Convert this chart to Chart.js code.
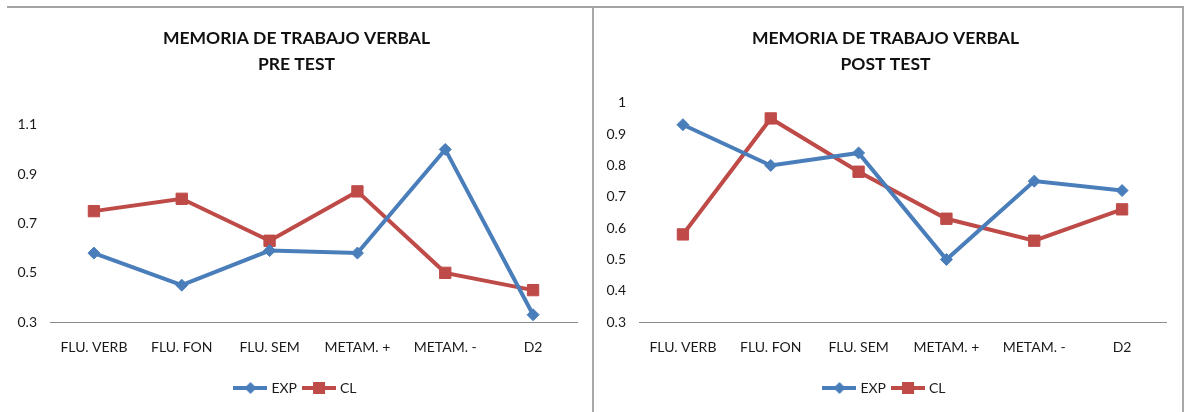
<!DOCTYPE html>
<html>
<head>
<meta charset="utf-8">
<script src="https://cdn.jsdelivr.net/npm/chart.js@4.4.1/dist/chart.umd.min.js"></script>
<style>
  html, body { margin: 0; padding: 0; background: #ffffff; }
  #page { position: relative; width: 1185px; height: 412px; overflow: hidden; background: #ffffff; }
  .panel { position: absolute; top: 6px; height: 406px; border-top: 2px solid #a3a3a3; box-sizing: border-box; }
  #panelPre { left: 7px; width: 587px; border-right: 2px solid #a8a8a8; }
  #panelPost { left: 594px; width: 590px; border-right: 2px solid #a8a8a8; }
  canvas { position: absolute; top: 0; }
  #chartPre { left: 0; }
  #chartPost { left: 594px; }
</style>
</head>
<body>
<div id="page">
  <div class="panel" id="panelPre"></div>
  <div class="panel" id="panelPost"></div>
  <canvas id="chartPre" width="592" height="412"></canvas>
  <canvas id="chartPost" width="588" height="412"></canvas>
</div>
<script>
// Test categories shared by both charts
const categories = ['FLU. VERB', 'FLU. FON', 'FLU. SEM', 'METAM. +', 'METAM. -', 'D2'];

// Pre test scores
const preExp = [0.58, 0.45, 0.59, 0.58, 1.00, 0.33];
const preCl  = [0.75, 0.80, 0.63, 0.83, 0.50, 0.43];
const preTicks = ['0.3', '0.5', '0.7', '0.9', '1.1'];

// Post test scores
const postExp = [0.93, 0.80, 0.84, 0.50, 0.75, 0.72];
const postCl  = [0.58, 0.95, 0.78, 0.63, 0.56, 0.66];
const postTicks = ['0.3', '0.4', '0.5', '0.6', '0.7', '0.8', '0.9', '1'];

const BLUE = '#4a7ebb';
const RED = '#be4b48';
const FONT = 'Lato, "Open Sans", sans-serif';

// Legend swatch: a short line segment with the series marker in the middle
function legendSwatch(color, shape) {
  const c = document.createElement('canvas');
  c.width = 34; c.height = 16;
  const g = c.getContext('2d');
  g.strokeStyle = color; g.lineWidth = 4;
  g.beginPath(); g.moveTo(0, 8); g.lineTo(34, 8); g.stroke();
  g.fillStyle = color;
  if (shape === 'diamond') {
    g.beginPath(); g.moveTo(17, 2); g.lineTo(23, 8); g.lineTo(17, 14); g.lineTo(11, 8); g.closePath(); g.fill();
  } else {
    g.fillRect(11, 2, 12, 12);
  }
  return c;
}

function buildChart(id, subtitle, expVals, clVals, yMin, yMax, yStep, tickLabels, pad, axisWidth, titleGap) {
  return new Chart(document.getElementById(id), {
    type: 'line',
    data: {
      labels: categories,
      datasets: [
        {
          label: 'EXP', data: expVals,
          borderColor: BLUE, backgroundColor: BLUE, borderWidth: 4,
          pointStyle: 'rectRot', pointRadius: 6, pointHoverRadius: 6,
          pointBackgroundColor: BLUE, pointBorderColor: BLUE, pointBorderWidth: 1,
          tension: 0
        },
        {
          label: 'CL', data: clVals,
          borderColor: RED, backgroundColor: RED, borderWidth: 4,
          pointStyle: 'rect', pointRadius: 8, pointHoverRadius: 8,
          pointBackgroundColor: RED, pointBorderColor: RED, pointBorderWidth: 1,
          tension: 0
        }
      ]
    },
    options: {
      responsive: false,
      animation: false,
      events: [],
      layout: { padding: pad },
      scales: {
        x: {
          offset: true,
          grid: { display: false, drawTicks: false },
          border: { display: true, color: '#8a8a8a', width: 1 },
          ticks: { color: '#1a1a1a', font: { family: FONT, size: 14 }, padding: 17, maxRotation: 0, autoSkip: false }
        },
        y: {
          min: yMin, max: yMax,
          grid: { display: false, drawTicks: false },
          border: { display: false },
          afterFit: (scale) => { scale.width = axisWidth; },
          ticks: {
            stepSize: yStep, color: '#1a1a1a', font: { family: FONT, size: 14 }, padding: 13,
            callback: (v, i) => tickLabels[i]
          }
        }
      },
      plugins: {
        title: {
          display: true,
          text: ['MEMORIA DE TRABAJO VERBAL', subtitle],
          color: '#111111',
          font: { family: FONT, size: 17.5, weight: 'bold', lineHeight: 1.45 },
          padding: { top: 0, bottom: titleGap }
        },
        legend: {
          display: true,
          position: 'bottom',
          labels: {
            color: '#1a1a1a',
            font: { family: FONT, size: 14 },
            usePointStyle: true,
            pointStyleWidth: 28,
            boxHeight: 14,
            padding: 8,
            generateLabels: (chart) => chart.data.datasets.map((ds, i) => ({
              text: ds.label,
              pointStyle: legendSwatch(ds.borderColor, i === 0 ? 'diamond' : 'square'),
              fillStyle: ds.borderColor, strokeStyle: ds.borderColor, lineWidth: 0,
              fontColor: '#1a1a1a', hidden: false, datasetIndex: i
            }))
          }
        },
        tooltip: { enabled: false }
      }
    }
  });
}

buildChart('chartPre', 'PRE TEST', preExp, preCl, 0.3, 1.1, 0.2, preTicks,
  { left: 16, right: 15, top: 26, bottom: 7 }, 34, 48);
buildChart('chartPost', 'POST TEST', postExp, postCl, 0.3, 1.0, 0.1, postTicks,
  { left: 11, right: 16, top: 26, bottom: 7 }, 34, 26);
</script>
</body>
</html>
